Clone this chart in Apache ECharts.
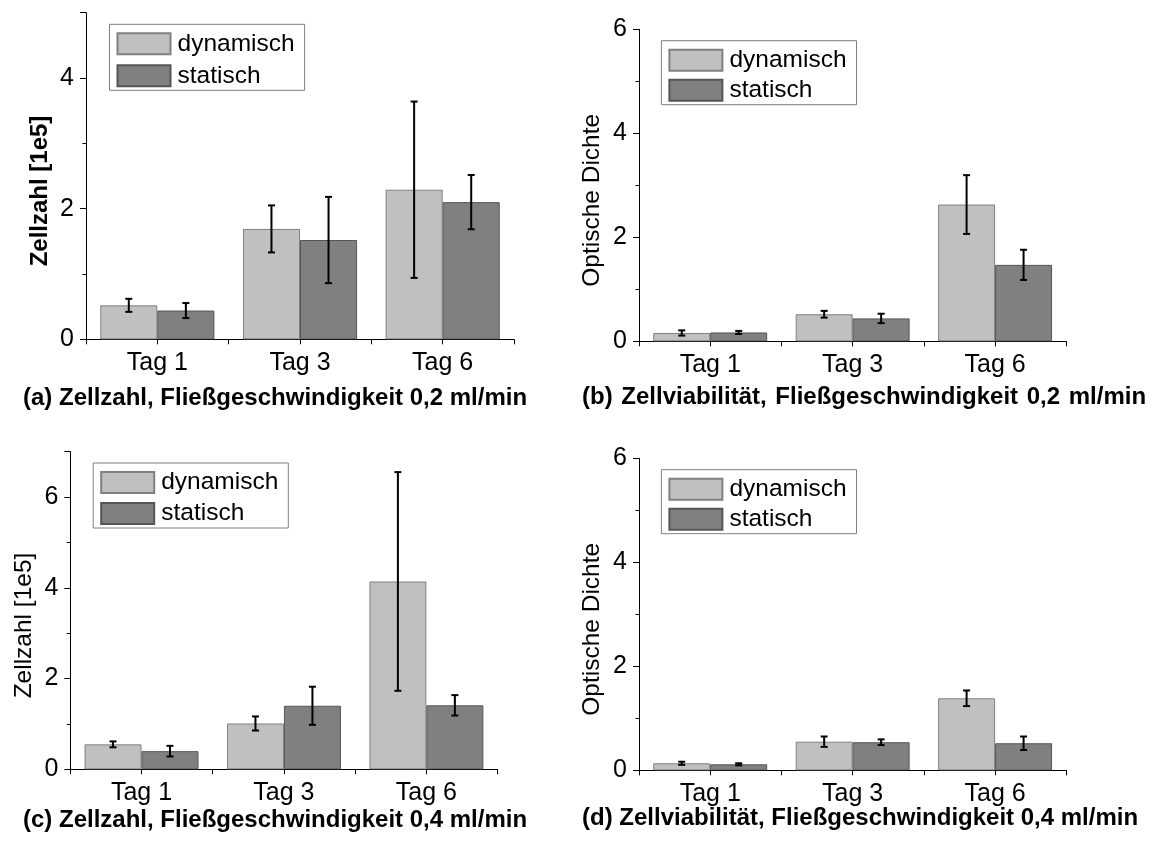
<!DOCTYPE html>
<html>
<head>
<meta charset="utf-8">
<script src="https://cdn.jsdelivr.net/npm/echarts@6/dist/echarts.min.js"></script>
<style>
  html, body { margin: 0; padding: 0; background: #fff; }
  #chart { width: 1160px; height: 842px; }
</style>
</head>
<body>
<div id="chart"></div>
<script>
// Categories and series names
const days = ['Tag 1', 'Tag 3', 'Tag 6'];
const groupNames = ['dynamisch', 'statisch'];

// (a) Zellzahl [1e5], 0,2 ml/min
const countSlowDyn = [0.52, 1.69, 2.29];
const countSlowDynErr = [0.10, 0.36, 1.35];
const countSlowStat = [0.44, 1.52, 2.10];
const countSlowStatErr = [0.115, 0.66, 0.415];

// (b) Optische Dichte, 0,2 ml/min
const odSlowDyn = [0.16, 0.52, 2.63];
const odSlowDynErr = [0.05, 0.065, 0.565];
const odSlowStat = [0.17, 0.44, 1.47];
const odSlowStatErr = [0.03, 0.09, 0.29];

// (c) Zellzahl [1e5], 0,4 ml/min
const countFastDyn = [0.55, 1.01, 4.14];
const countFastDynErr = [0.065, 0.155, 2.41];
const countFastStat = [0.40, 1.40, 1.41];
const countFastStatErr = [0.117, 0.42, 0.225];

// (d) Optische Dichte, 0,4 ml/min
const odFastDyn = [0.135, 0.55, 1.385];
const odFastDynErr = [0.03, 0.10, 0.15];
const odFastStat = [0.115, 0.54, 0.52];
const odFastStatErr = [0.02, 0.055, 0.13];

// Axis ranges and labels
const yMaxes = [5, 6, 7, 6];
const yNames = ['Zellzahl [1e5]', 'Optische Dichte', 'Zellzahl [1e5]', 'Optische Dichte'];
const captions = [
  '(a) Zellzahl, Fließgeschwindigkeit 0,2 ml/min',
  '(b) \u200AZellviabilität, \u200AFließgeschwindigkeit \u200A0,2 \u200Aml/min',
  '(c) Zellzahl, Fließgeschwindigkeit 0,4 ml/min',
  '(d) Zellviabilität, Fließgeschwindigkeit 0,4 ml/min'
];

const panelData = [
  { dyn: countSlowDyn, dynErr: countSlowDynErr, stat: countSlowStat, statErr: countSlowStatErr },
  { dyn: odSlowDyn, dynErr: odSlowDynErr, stat: odSlowStat, statErr: odSlowStatErr },
  { dyn: countFastDyn, dynErr: countFastDynErr, stat: countFastStat, statErr: countFastStatErr },
  { dyn: odFastDyn, dynErr: odFastDynErr, stat: odFastStat, statErr: odFastStatErr }
];

// Layout of the four panels
const grids = [
  { left: 86, top: 12.7, width: 428, height: 326.6 },
  { left: 639, top: 29.3, width: 427.3, height: 312 },
  { left: 70.3, top: 451.7, width: 427.3, height: 317.6 },
  { left: 639, top: 458.3, width: 427.3, height: 312 }
];
const legendBoxes = [
  { left: 109.5, top: 24.3, itemGap: 7 },
  { left: 661.4, top: 40.7, itemGap: 5 },
  { left: 93.2, top: 463, itemGap: 6 },
  { left: 661.4, top: 469.7, itemGap: 5 }
];
const captionPos = [
  { left: 23, top: 386 },
  { left: 582, top: 385 },
  { left: 23, top: 808 },
  { left: 582, top: 806 }
];
const nameBold = [true, false, false, false];

const FONT = "'Liberation Sans', Arial, Helvetica, sans-serif";
const dynStyle = { color: '#c0c0c0', borderColor: '#808080', borderWidth: 1 };
const statStyle = { color: '#808080', borderColor: '#555555', borderWidth: 1 };

// Error bars drawn at the centre of each bar (bars take 80% of the band, two per band)
function errorSeries(xi, yi, means, errs, side) {
  const data = means.map((m, i) => [i, m - errs[i], m + errs[i]]);
  return {
    type: 'custom',
    xAxisIndex: xi,
    yAxisIndex: yi,
    silent: true,
    z: 5,
    encode: { x: 0, y: [1, 2] },
    data: data,
    renderItem: function (params, api) {
      const cat = api.value(0);
      const lo = api.coord([cat, api.value(1)]);
      const hi = api.coord([cat, api.value(2)]);
      const band = api.size([1, 0])[0];
      const cx = lo[0] + side * band * 0.2;
      const cap = 3.5;
      const style = { stroke: '#000', lineWidth: 2 };
      return {
        type: 'group',
        children: [
          { type: 'line', shape: { x1: cx, y1: lo[1], x2: cx, y2: hi[1] }, style: style },
          { type: 'line', shape: { x1: cx - cap, y1: hi[1], x2: cx + cap, y2: hi[1] }, style: style },
          { type: 'line', shape: { x1: cx - cap, y1: lo[1], x2: cx + cap, y2: lo[1] }, style: style }
        ]
      };
    }
  };
}

const option = {
  animation: false,
  backgroundColor: '#fff',
  textStyle: { fontFamily: FONT, color: '#000' },
  title: captions.map((t, i) => ({
    text: t,
    left: captionPos[i].left,
    top: captionPos[i].top,
    padding: 0,
    textStyle: { fontFamily: FONT, fontSize: 24, fontWeight: 'bold', color: '#000' }
  })),
  legend: legendBoxes.map((l, i) => ({
    data: groupNames,
    orient: 'vertical',
    left: l.left,
    top: l.top,
    itemWidth: 53,
    itemHeight: 21,
    itemGap: l.itemGap,
    padding: [7, 10, 2, 7],
    icon: 'rect',
    borderColor: '#808080',
    borderWidth: 1,
    backgroundColor: '#fff',
    selectedMode: false,
    textStyle: { fontFamily: FONT, fontSize: 24.5, color: '#000', lineHeight: 22, padding: [0, 0, 0, 2] }
  })),
  grid: grids.map(g => Object.assign({ containLabel: false }, g)),
  xAxis: [],
  yAxis: [],
  series: []
};

grids.forEach((g, i) => {
  // category axis with ticks on the band boundaries
  option.xAxis.push({
    gridIndex: i, type: 'category', data: days, position: 'bottom',
    axisLine: { show: true, lineStyle: { color: '#000', width: 1 } },
    axisTick: { show: true, length: 5, alignWithLabel: false, interval: 0, lineStyle: { color: '#000', width: 1 } },
    axisLabel: { fontSize: 25, color: '#000', margin: 11, fontFamily: FONT, interval: 0 },
    splitLine: { show: false }
  });
  // second category axis for the ticks under each label
  option.xAxis.push({
    gridIndex: i, type: 'category', data: days, position: 'bottom',
    axisLine: { show: false },
    axisTick: { show: true, length: 5, alignWithLabel: true, interval: 0, lineStyle: { color: '#000', width: 1 } },
    axisLabel: { show: false },
    splitLine: { show: false }
  });
  // value axis: line, minor ticks every unit and the axis title
  option.yAxis.push({
    gridIndex: i, type: 'value', position: 'left', min: 0, max: yMaxes[i], interval: 1,
    axisLine: { show: true, lineStyle: { color: '#000', width: 1 } },
    axisTick: { show: true, length: 3.5, lineStyle: { color: '#000', width: 1 } },
    axisLabel: { show: false },
    splitLine: { show: false },
    name: yNames[i],
    nameLocation: 'middle',
    nameGap: 34,
    nameTextStyle: {
      fontFamily: FONT, fontSize: nameBold[i] ? 24 : 24.5, color: '#000',
      fontWeight: nameBold[i] ? 'bold' : 'normal',
      padding: [0, 30, 0, 0]
    }
  });
  // value axis: major ticks and labels every two units
  option.yAxis.push({
    gridIndex: i, type: 'value', position: 'left', min: 0, max: yMaxes[i], interval: 2,
    axisLine: { show: false },
    axisTick: { show: true, length: 6, lineStyle: { color: '#000', width: 1 } },
    axisLabel: {
      fontSize: 25, color: '#000', margin: 12, fontFamily: FONT,
      formatter: v => (v % 2 === 0 ? String(v) : '')
    },
    splitLine: { show: false }
  });

  const d = panelData[i];
  const xi = 2 * i, yi = 2 * i;
  option.series.push({
    name: groupNames[0], type: 'bar', xAxisIndex: xi, yAxisIndex: yi,
    data: d.dyn, barGap: '0%', barCategoryGap: '20%', itemStyle: dynStyle, silent: true
  });
  option.series.push({
    name: groupNames[1], type: 'bar', xAxisIndex: xi, yAxisIndex: yi,
    data: d.stat, barGap: '0%', barCategoryGap: '20%', itemStyle: statStyle, silent: true
  });
  option.series.push(errorSeries(xi, yi, d.dyn, d.dynErr, -1));
  option.series.push(errorSeries(xi, yi, d.stat, d.statErr, 1));
});

const chart = echarts.init(document.getElementById('chart'), null, { renderer: 'canvas' });
chart.setOption(option);
</script>
</body>
</html>
